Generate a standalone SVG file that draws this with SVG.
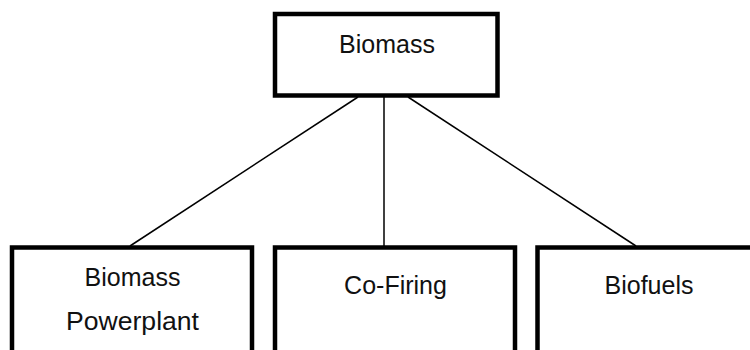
<svg xmlns="http://www.w3.org/2000/svg" width="750" height="350" viewBox="0 0 750 350">
<style>
.box{fill:#fff;stroke:#000;stroke-width:4.5}
.lbl{font-family:"Liberation Sans",Arial,sans-serif;font-size:25px;fill:#111;text-anchor:middle}
.conn{stroke:#000;stroke-width:1.5;fill:none}
</style>
<rect width="750" height="350" fill="#fff"/>
<g id="connectors">
<line class="conn" x1="358" y1="97" x2="130" y2="246"/>
<line class="conn" x1="384" y1="97" x2="384" y2="246"/>
<line class="conn" x1="408" y1="97" x2="636" y2="246"/>
</g>
<g id="biomass">
<rect class="box" x="275" y="14" width="222.5" height="81.5"/>
<text class="lbl" x="387" y="53">Biomass</text>
</g>
<g id="powerplant">
<rect class="box" x="12" y="247.5" width="240" height="130"/>
<text class="lbl" x="132.5" y="286">Biomass</text>
<text class="lbl" x="132.5" y="330" textLength="133" lengthAdjust="spacingAndGlyphs">Powerplant</text>
</g>
<g id="cofiring">
<rect class="box" x="275" y="247.5" width="240" height="130"/>
<text class="lbl" x="395.5" y="294">Co-Firing</text>
</g>
<g id="biofuels">
<rect class="box" x="537.5" y="247.5" width="240" height="130"/>
<text class="lbl" x="649" y="294">Biofuels</text>
</g>
</svg>
